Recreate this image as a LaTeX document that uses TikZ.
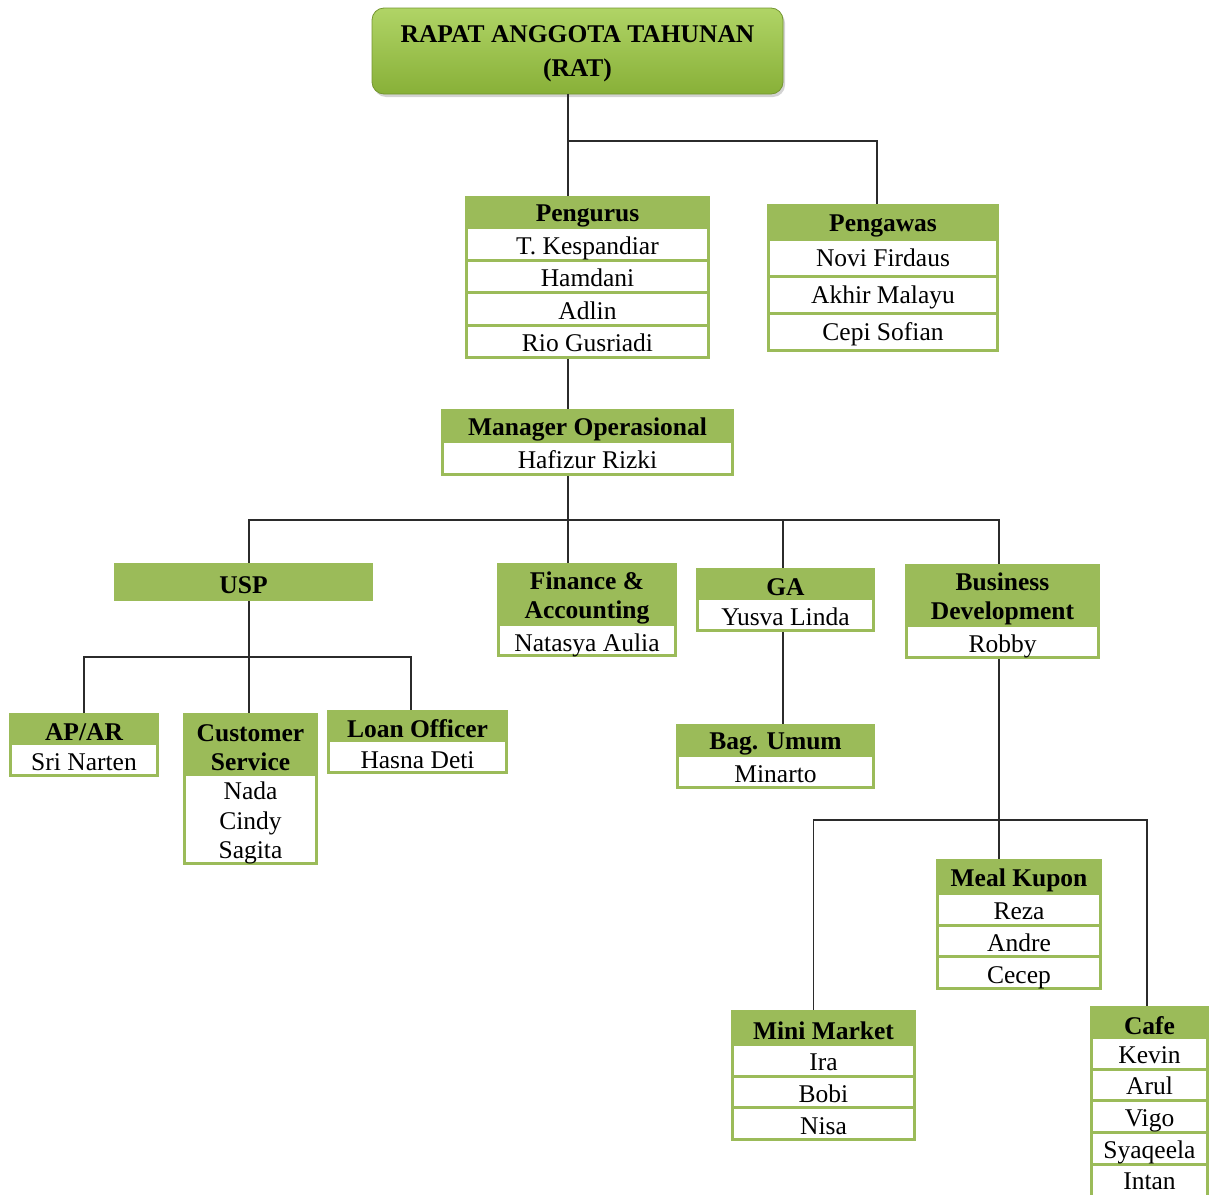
\documentclass[tikz,border=0pt]{standalone}
\usepackage{fontspec}
\setmainfont{Liberation Serif}
\usetikzlibrary{shadows}

\definecolor{orggreen}{HTML}{9BBB59}
\definecolor{ratlight}{HTML}{B0D466}
\definecolor{ratdark}{HTML}{88B038}
\definecolor{linkgray}{HTML}{2B2B2B}

\tikzset{
  frame/.style={fill=orggreen, inner sep=0pt},
  hd/.style={font=\fontsize{25.5}{29}\selectfont\bfseries, align=center, inner sep=0pt, yshift=-3pt},
  cell/.style={fill=white, inner sep=0pt, font=\fontsize{25.5}{29.5}\selectfont, align=center},
  txt/.style={yshift=-3pt},
  member/.style={inner sep=0pt, font=\fontsize{25.5}{29.5}\selectfont,
                 text height=17pt, text depth=6pt, yshift=-5pt},
  link/.style={draw=linkgray, line width=1.6pt}
}

\begin{document}
\begin{tikzpicture}[x=1pt, y=-1pt]
    \useasboundingbox (0,0) rectangle (1215,1194);
    \clip (0,0) rectangle (1215,1194);

    % top
    \node[rounded corners=12pt, top color=ratlight, bottom color=ratdark, draw=ratdark!85!black,
          line width=0.8pt, drop shadow={opacity=0.35, shadow xshift=2pt, shadow yshift=-3pt},
          minimum width=411, minimum height=86, inner sep=0pt] (rat) at (577.5,51) {};
    \node[font=\fontsize{25.5}{34}\selectfont\bfseries, align=center, inner sep=0pt, txt]
          at (rat) {RAPAT ANGGOTA TAHUNAN\\(RAT)};

    % Pengurus
    \node[frame, minimum width=245, minimum height=163] (pengurus) at (587.5,277.5) {};
    \node[hd] at (587.5,212.5) {Pengurus};
    \foreach \nm [count=\i] in {T. Kespandiar, Hamdani, Adlin, Rio Gusriadi}
        \node[cell, minimum width=239, minimum height=29.5] at (587.5, 211.25+32.5*\i) {};
    \foreach \nm [count=\i] in {T. Kespandiar, Hamdani, Adlin, Rio Gusriadi}
        \node[member] at (587.5, 211.25+32.5*\i) {\nm};

    % Pengawas
    \node[frame, minimum width=232, minimum height=148] (pengawas) at (883,278) {};
    \node[hd] at (883,222.5) {Pengawas};
    \foreach \nm [count=\i] in {Novi Firdaus, Akhir Malayu, Cepi Sofian}
        \node[cell, minimum width=226, minimum height=34] at (883, 221+37*\i) {};
    \foreach \nm [count=\i] in {Novi Firdaus, Akhir Malayu, Cepi Sofian}
        \node[member] at (883, 219+37*\i) {\nm};

    % Manager
    \node[frame, minimum width=293, minimum height=67] (manager) at (587.5,442.5) {};
    \node[hd] at (587.5,426) {Manager Operasional};
    \node[cell, minimum width=287, minimum height=30] at (587.5,458) {};
    \node[member] at (587.5,458) {Hafizur Rizki};

    % USP
    \node[frame, minimum width=259, minimum height=38] (usp) at (243.5,582) {};
    \node[hd] at (243.5,582) {USP};

    % Finance
    \node[frame, minimum width=180, minimum height=94] (finance) at (587,610) {};
    \node[hd] at (587,594.5) {Finance \&\\Accounting};
    \node[cell, minimum width=174, minimum height=28] at (587,640) {};
    \node[member] at (587,641) {Natasya Aulia};

    % GA
    \node[frame, minimum width=179, minimum height=64] (ga) at (785.5,600) {};
    \node[hd] at (785.5,584) {GA};
    \node[cell, minimum width=173, minimum height=29] at (785.5,614.5) {};
    \node[member] at (785.5,615) {Yusva Linda};

    % Business Development
    \node[frame, minimum width=195, minimum height=95] (bisdev) at (1002.5,611.5) {};
    \node[hd] at (1002.5,595.5) {Business\\Development};
    \node[cell, minimum width=189, minimum height=29] at (1002.5,641.5) {};
    \node[member] at (1002.5,641.5) {Robby};

    % AP/AR
    \node[frame, minimum width=150, minimum height=64] (apar) at (84,745) {};
    \node[hd] at (84,729) {AP/AR};
    \node[cell, minimum width=144, minimum height=29] at (84,759.5) {};
    \node[member] at (84,760) {Sri Narten};

    % Customer Service
    \node[frame, minimum width=135, minimum height=152] (cs) at (250.5,789) {};
    \node[hd] at (250.5,744.5) {Customer\\Service};
    \node[cell, minimum width=129, minimum height=86] at (250.5,819) {};
    \node[cell, fill=none, txt] at (250.5,820) {Nada\\Cindy\\Sagita};

    % Loan Officer
    \node[frame, minimum width=181, minimum height=64] (loan) at (417.5,742) {};
    \node[hd] at (417.5,726) {Loan Officer};
    \node[cell, minimum width=175, minimum height=29] at (417.5,756.5) {};
    \node[member] at (417.5,757.5) {Hasna Deti};

    % Bag. Umum
    \node[frame, minimum width=199, minimum height=65] (umum) at (775.5,756.5) {};
    \node[hd] at (775.5,740.5) {Bag. Umum};
    \node[cell, minimum width=193, minimum height=29] at (775.5,771.5) {};
    \node[member] at (775.5,772) {Minarto};

    % Meal Kupon
    \node[frame, minimum width=166, minimum height=131.1] (meal) at (1019,924.55) {};
    \node[hd] at (1019,877) {Meal Kupon};
    \foreach \nm [count=\i] in {Reza, Andre, Cecep}
        \node[cell, minimum width=160, minimum height=28.7] at (1019, 877.65+31.7*\i) {};
    \foreach \nm [count=\i] in {Reza, Andre, Cecep}
        \node[member] at (1019, 877.65+31.7*\i) {\nm};

    % Mini Market
    \node[frame, minimum width=185, minimum height=131.1] (mini) at (823.5,1075.55) {};
    \node[hd] at (823.5,1028) {Mini Market};
    \foreach \nm [count=\i] in {Ira, Bobi, Nisa}
        \node[cell, minimum width=179, minimum height=28.7] at (823.5, 1028.65+31.7*\i) {};
    \foreach \nm [count=\i] in {Ira, Bobi, Nisa}
        \node[member] at (823.5, 1028.65+31.7*\i) {\nm};

    % Cafe
    \node[frame, minimum width=119, minimum height=191.5] (cafe) at (1149.5,1101.75) {};
    \node[hd] at (1149.5,1022.5) {Cafe};
    \foreach \nm [count=\i] in {Kevin, Arul, Vigo, Syaqeela, Intan}
        \node[cell, minimum width=113, minimum height=28.7] at (1149.5, 1021.65+31.7*\i) {};
    \foreach \nm [count=\i] in {Kevin, Arul, Vigo, Syaqeela, Intan}
        \node[member] at (1149.5, 1021.15+31.6*\i) {\nm};

    % connectors
    \coordinate (spine) at (568,0);
    \coordinate (j1) at (568,141);
    \coordinate (j2) at (568,520);
    \coordinate (j3) at (249,657);
    \coordinate (j4) at (999,820);

    \draw[link] (rat.south -| spine) -- (pengurus.north -| spine);
    \draw[link] ([xshift=-6pt]pengawas.north) |- (j1);
    \draw[link] (pengurus.south -| spine) -- (manager.north -| spine);
    \draw[link] (manager.south -| spine) -- (finance.north -| spine);
    \draw[link] (usp.north -| j3) |- (j2);
    \draw[link] ([xshift=-2.5pt]ga.north) |- (j2);
    \draw[link] (bisdev.north -| j4) |- (j2);
    \draw[link] (usp.south -| j3) -- (cs.north -| j3);
    \draw[link] (apar.north) |- (j3);
    \draw[link] ([xshift=-6.5pt]loan.north) |- (j3);
    \draw[link] ([xshift=-2.5pt]ga.south) -- ([xshift=-2.5pt]ga.south |- umum.north);
    \draw[link] (bisdev.south -| j4) -- (meal.north -| j4);
    \draw[link] ([xshift=-10pt]mini.north) |- (j4);
    \draw[link] ([xshift=-2.5pt]cafe.north) |- (j4);
\end{tikzpicture}
\end{document}
